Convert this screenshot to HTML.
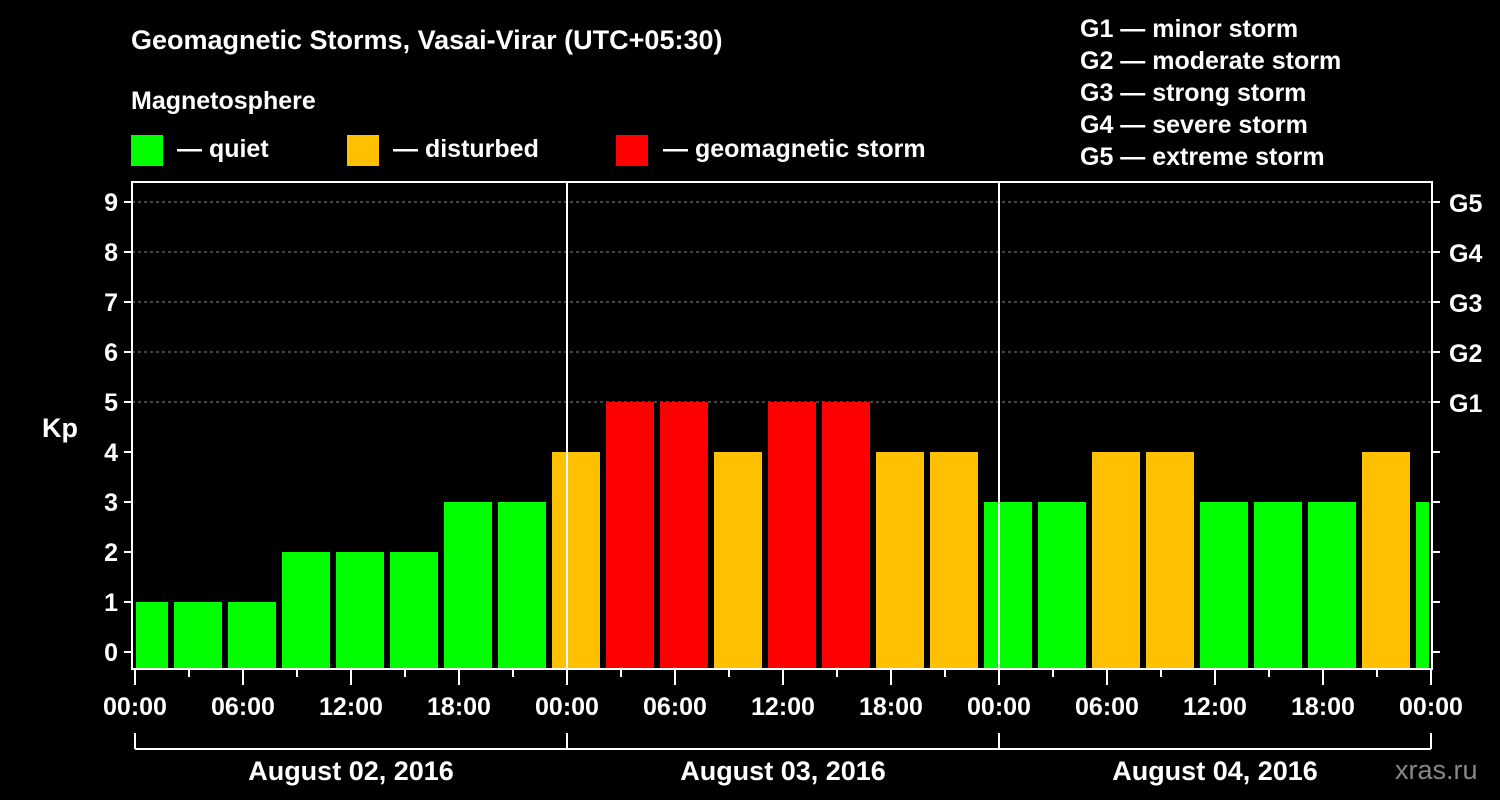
<!DOCTYPE html>
<html><head><meta charset="utf-8"><style>
body{margin:0;background:#000;}
svg{display:block;font-family:"Liberation Sans",Arial,sans-serif;font-weight:bold;}
</style></head><body>
<svg id="c" width="1500" height="800">
<rect width="1500" height="800" fill="#000"/>
<text x="131" y="49" fill="#fff" font-size="27">Geomagnetic Storms, Vasai-Virar (UTC+05:30)</text>
<text x="131" y="109" fill="#fff" font-size="25">Magnetosphere</text>
<g><rect x="131" y="135" width="32" height="31" fill="#00ff00"/><text x="177" y="157" fill="#fff" font-size="25">— quiet</text></g>
<g><rect x="347" y="135" width="32" height="31" fill="#ffc000"/><text x="393" y="157" fill="#fff" font-size="25">— disturbed</text></g>
<g><rect x="616" y="135" width="32" height="31" fill="#ff0000"/><text x="663" y="157" fill="#fff" font-size="25">— geomagnetic storm</text></g>
<g fill="#fff" font-size="25">
<text x="1080" y="37">G1 — minor storm</text>
<text x="1080" y="69">G2 — moderate storm</text>
<text x="1080" y="101">G3 — strong storm</text>
<text x="1080" y="133">G4 — severe storm</text>
<text x="1080" y="165">G5 — extreme storm</text>
</g>
<text x="1395" y="779" fill="#888" font-size="27" font-weight="normal">xras.ru</text>
<text x="42" y="437" fill="#fff" font-size="27">Kp</text>
<g id="g"></g>
</svg>
<script>
const kpValues=[1,1,1,2,2,2,3,3,4,5,5,4,5,5,4,4,3,3,4,4,3,3,3,4,3];
const barStartHour=-1;
const yTicks=[0,1,2,3,4,5,6,7,8,9];
const gLabels=["G1","G2","G3","G4","G5"];
const xTickLabels=["00:00","06:00","12:00","18:00","00:00","06:00","12:00","18:00","00:00","06:00","12:00","18:00","00:00"];
const dayLabels=["August 02, 2016","August 03, 2016","August 04, 2016"];
const L=132,R=1432,T=182,B=669,X0=135;
const x=h=>X0+h*18;
const y=v=>652-v*50;
const NS="http://www.w3.org/2000/svg";
const g=document.getElementById('g');
function mk(t,a){const e=document.createElementNS(NS,t);for(const k in a)e.setAttribute(k,a[k]);g.appendChild(e);return e;}
// grid
for(let i=5;i<=9;i++){const e=mk('line',{x1:L,x2:R,y1:y(i),y2:y(i),stroke:'#888','stroke-dasharray':'3,3'});

}
// bars
kpValues.forEach((v,i)=>{
 const s=barStartHour+3*i, e0=s+3;
 let x1=Math.max(x(s)+3,L+4), x2=Math.min(x(e0)-3,R-3);
 const col=v>=5?'#ff0000':(v>=4?'#ffc000':'#00ff00');
 const r=mk('rect',{x:x1,y:y(v),width:x2-x1,height:B-1-y(v),fill:col});
 
 
});
// day separators
[1,2].forEach(d=>{const e=mk('line',{x1:x(24*d),x2:x(24*d),y1:T,y2:B,stroke:'#fff','stroke-width':2});

});
// frame
const fr=mk('rect',{x:L,y:T,width:R-L,height:B-T,fill:'none',stroke:'#fff','stroke-width':2});


// y ticks
yTicks.forEach(v=>{
 mk('line',{x1:L-8,x2:L,y1:y(v),y2:y(v),stroke:'#fff','stroke-width':2});
 mk('line',{x1:R,x2:R+8,y1:y(v),y2:y(v),stroke:'#fff','stroke-width':2});
 const t=mk('text',{x:L-14,y:y(v)+9,fill:'#fff','font-size':25,'text-anchor':'end'});t.textContent=v;
 
 
});
gLabels.forEach((s,i)=>{const t=mk('text',{x:1449,y:y(5+i)+10,fill:'#fff','font-size':25});t.textContent=s;
 
 });
// x ticks
for(let h=0;h<=72;h+=3){const maj=h%6===0;mk('line',{x1:x(h),x2:x(h),y1:B,y2:B+(maj?16:8),stroke:'#fff','stroke-width':2});}
xTickLabels.forEach((s,i)=>{const t=mk('text',{x:x(6*i),y:715,fill:'#fff','font-size':25,'text-anchor':'middle'});t.textContent=s;
 
 });
// day bracket
mk('line',{x1:x(0),x2:x(72),y1:749,y2:749,stroke:'#fff','stroke-width':2});
for(let d=0;d<=3;d++)mk('line',{x1:x(24*d),x2:x(24*d),y1:733,y2:749,stroke:'#fff','stroke-width':2});
dayLabels.forEach((s,i)=>{const t=mk('text',{x:x(24*i+12),y:780,fill:'#fff','font-size':27,'text-anchor':'middle'});t.textContent=s;
 
 });
</script>
</body></html>
